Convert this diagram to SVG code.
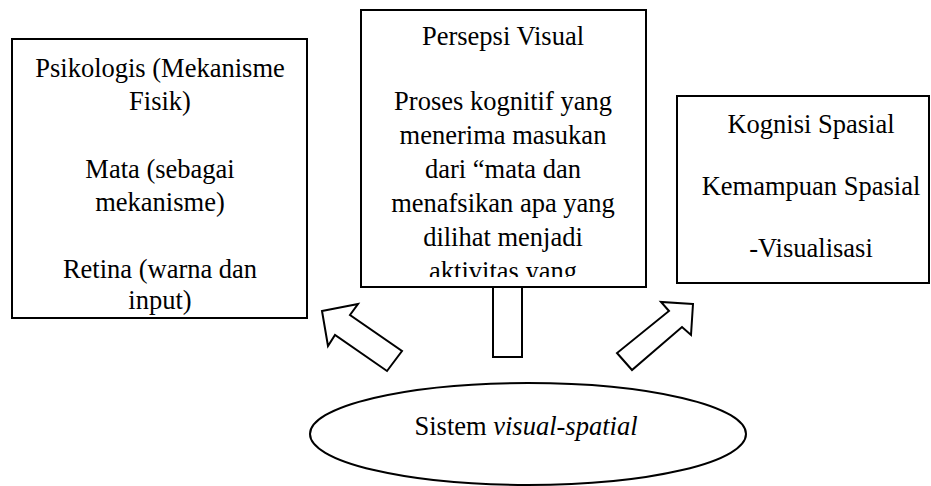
<svg xmlns="http://www.w3.org/2000/svg" width="931" height="486" viewBox="0 0 931 486">
<style>
.box{fill:#fff;stroke:#000;stroke-width:2}
.arr{fill:#fff;stroke:#000;stroke-width:2;stroke-linejoin:miter}
.t{font-family:"Liberation Serif","Times New Roman",serif;font-size:26.5px;fill:#000;text-anchor:middle}
</style>
<defs>
<clipPath id="clipC"><rect x="361" y="10" width="285" height="267"/></clipPath>
</defs>
<rect width="931" height="486" fill="#fff"/>
<g id="connectors">
<rect class="arr" x="493" y="287" width="29" height="70"/>
<polygon class="arr" points="322,311 358,304 350,315 402,351 387,371 335,335 328,346"/>
<polygon class="arr" points="693,304 661,302 669,311 617,353 632,370 682,327 691,335"/>
</g>
<g id="psikologis">
<rect class="box" x="12" y="39" width="295" height="279"/>
<text class="t" x="160" y="77">Psikologis (Mekanisme</text>
<text class="t" x="160" y="110">Fisik)</text>
<text class="t" x="160" y="178">Mata (sebagai</text>
<text class="t" x="160" y="211">mekanisme)</text>
<text class="t" x="160" y="278">Retina (warna dan</text>
<text class="t" x="160" y="309">input)</text>
</g>
<g id="persepsi">
<rect class="box" x="361" y="10" width="285" height="277"/>
<g clip-path="url(#clipC)">
<text class="t" x="503" y="45">Persepsi Visual</text>
<text class="t" x="503" y="110">Proses kognitif yang</text>
<text class="t" x="503" y="144">menerima masukan</text>
<text class="t" x="503" y="178">dari “mata dan</text>
<text class="t" x="503" y="212">menafsikan apa yang</text>
<text class="t" x="503" y="246">dilihat menjadi</text>
<text class="t" x="503" y="280">aktivitas yang</text>
</g>
</g>
<g id="kognisi">
<rect class="box" x="677" y="96" width="252" height="187"/>
<text class="t" x="811" y="133">Kognisi Spasial</text>
<text class="t" x="811" y="195">Kemampuan Spasial</text>
<text class="t" x="811" y="257">-Visualisasi</text>
</g>
<g id="sistem">
<ellipse class="box" cx="528" cy="434" rx="218" ry="51"/>
<text class="t" x="526" y="435">Sistem <tspan font-style="italic">visual-spatial</tspan></text>
</g>
</svg>
